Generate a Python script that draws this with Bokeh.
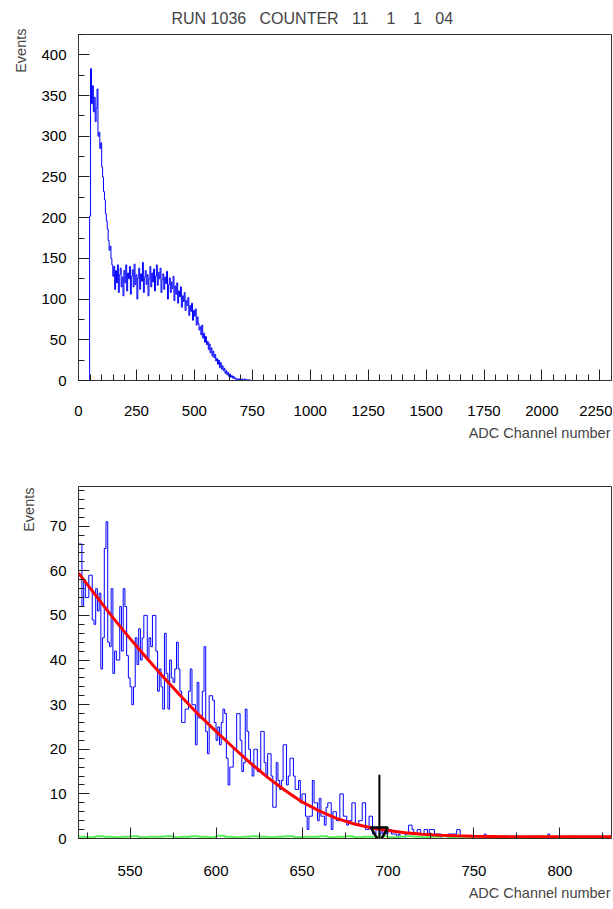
import numpy as np
from bokeh.plotting import figure
from bokeh.models import Range1d, SingleIntervalTicker, Title
from bokeh.layouts import column
from bokeh.embed import file_html
from bokeh.resources import INLINE

# ---------------- data ----------------
NB = "\u00a0"
TITLE = "RUN 1036" + NB * 2 + " COUNTER" + NB * 2 + " 11" + NB * 3 + " 1" + NB * 3 + " 1" + NB * 2 + " 04"
X_LABEL = "ADC Channel number"
Y_LABEL = "Events"

# full spectrum (upper panel)
top_first_channel = 48
top_bin_width = 4
top_counts = [
    202, 383, 340, 362, 330, 348, 318, 335, 358, 300,
    305, 285, 292, 262, 250, 232, 222, 205, 196, 186,
    172, 160, 165, 150, 142, 128, 140, 112, 135, 120,
    142, 108, 130, 138, 115, 127, 104, 135, 120, 142,
    110, 132, 125, 140, 106, 128, 136, 115, 143, 118,
    130, 100, 126, 138, 112, 131, 122, 145, 108, 127,
    135, 118, 130, 104, 125, 140, 115, 132, 121, 137,
    110, 128, 142, 117, 133, 125, 138, 108, 124, 131,
    112, 127, 119, 134, 100, 118, 126, 108, 121, 113,
    128, 98, 116, 106, 120, 95, 110, 103, 115, 90,
    104, 97, 108, 86, 98, 92, 102, 80, 92, 85,
    95, 74, 86, 79, 88, 68, 78, 70, 62, 66,
    56, 68, 52, 58, 47, 54, 44, 48, 38, 45,
    34, 40, 30, 36, 28, 32, 24, 27, 20, 25,
    16, 22, 14, 18, 12, 15, 9, 12, 7, 10,
    5, 8, 4, 6, 3, 5, 2, 3, 1, 2,
    1, 2, 0, 1, 2, 0, 1, 2, 1, 0,
    1, 0, 1, 0, 0, 0, 0, 0,
]
top_x_range = (0, 2300)
top_y_range = (0, 425)
top_x_tick_step = 250
top_y_tick_step = 50

# zoomed end-point region (lower panel)
zoom_first_channel = 520
zoom_bin_width = 1
zoom_counts = [
    66, 66, 52, 58, 54, 54, 59, 59, 49, 48,
    56, 51, 55, 38, 45, 65, 71, 44, 43, 56,
    37, 42, 40, 40, 52, 42, 56, 52, 41, 36,
    34, 30, 34, 45, 39, 47, 40, 45, 50, 50,
    40, 45, 43, 50, 50, 42, 33, 38, 34, 29,
    46, 37, 29, 40, 36, 35, 38, 44, 38, 33,
    26, 26, 29, 29, 33, 38, 30, 30, 21, 35,
    27, 27, 33, 43, 24, 19, 32, 32, 31, 26,
    22, 25, 21, 26, 29, 28, 18, 12, 16, 16,
    20, 20, 28, 28, 22, 15, 17, 29, 24, 20,
    17, 14, 20, 20, 15, 15, 24, 24, 17, 14,
    19, 19, 14, 7, 7, 17, 13, 11, 13, 21,
    21, 12, 14, 18, 18, 14, 11, 11, 13, 8,
    10, 10, 5, 2, 5, 5, 13, 8, 8, 4,
    9, 5, 5, 3, 7, 8, 8, 2, 6, 6,
    4, 4, 10, 10, 5, 5, 3, 4, 4, 8,
    8, 3, 3, 4, 4, 8, 8, 2, 2, 5,
    5, 1, 1, 2, 2, 1, 2, 1, 2, 1,
    2, 2, 1, 1, 1, 0, 1, 0, 0, 0,
    1, 1, 3, 3, 2, 1, 1, 2, 2, 1,
    1, 2, 2, 1, 2, 2, 2, 1, 1, 1,
    1, 0, 0, 0, 0, 1, 1, 1, 1, 1,
    2, 2, 0, 0, 0, 0, 0, 0, 0, 0,
    0, 0, 0, 0, 0, 0, 1, 0, 0, 0,
    0, 0, 0, 0, 0, 0, 0, 0, 0, 0,
    0, 0, 0, 0, 0, 0, 0, 0, 0, 0,
    0, 0, 0, 0, 0, 0, 0, 0, 0, 0,
    0, 0, 0, 1, 0, 0, 0, 0, 0, 0,
    0, 0, 0, 0, 0, 0, 0, 0, 0, 0,
    0, 0, 0, 0, 0, 0, 0, 0, 0, 0,
    0, 0, 0, 0, 0, 0, 0, 0, 0, 0,
]
zoom_x_range = (520, 830)
zoom_y_range = (0, 78.9)
zoom_x_tick_step = 50
zoom_y_tick_step = 10

# fitted curve (red)
fit_channels = [520, 530, 540, 550, 560, 570, 580, 590, 600, 610,
                620, 630, 640, 650, 660, 670, 680, 690, 700, 710,
                720, 730, 740, 750, 760, 770, 780, 790, 800, 810,
                820, 830]
fit_values = [59.5, 54.5, 49.5, 44.8, 40.3, 35.9, 31.7, 27.7, 24.0, 20.4,
              16.9, 13.7, 10.8, 8.2, 6.2, 4.5, 3.3, 2.4, 1.8, 1.3,
              0.95, 0.75, 0.6, 0.5, 0.45, 0.4, 0.4, 0.4, 0.4, 0.4,
              0.4, 0.4]

# background (green)
bg_first_channel = 520
bg_bin_width = 5
bg_counts = [0.4, 0.3, 0.5, 0.4, 0.3, 0.4, 0.5, 0.3, 0.4, 0.4,
             0.5, 0.3, 0.4, 0.5, 0.4, 0.3, 0.6, 0.4, 0.3, 0.4,
             0.5, 0.4, 0.3, 0.4, 0.5, 0.3, 0.4, 0.4, 0.5, 0.3,
             0.4, 0.5, 0.3, 0.4, 0.4, 0.5, 0.3, 0.4, 0.5, 0.4,
             0.3, 0.4, 0.5, 0.3, 0.4, 0.4, 0.5, 0.3, 0.4, 0.5,
             0.4, 0.3, 0.4, 0.5, 0.4, 0.3, 0.4, 0.5, 0.3, 0.4,
             0.4, 0.3]

# end-point marker
threshold_channel = 695
threshold_arrow_top = 14.3
threshold_marker_level = 1.35

FONT = "Liberation Sans"


def hist_outline(first, width, counts):
    counts = np.asarray(counts, dtype=float)
    edges = first + width * np.arange(len(counts) + 1)
    xs = np.repeat(edges, 2)
    ys = np.concatenate([[0.0], np.repeat(counts, 2), [0.0]])
    return xs, ys


def make_fig(height, xr, yr, xstep, ystep, xminor, yminor, min_top, min_bottom,
             xstandoff, ylabel_offset):
    p = figure(width=612, height=height,
               x_range=Range1d(*xr), y_range=Range1d(*yr),
               output_backend="svg", toolbar_location=None,
               min_border_left=78, min_border_right=1,
               min_border_top=min_top, min_border_bottom=min_bottom)
    p.xgrid.visible = False
    p.ygrid.visible = False
    p.outline_line_color = "#333333"
    p.outline_line_width = 1
    p.background_fill_color = "white"
    p.border_fill_color = "white"
    p.xaxis.ticker = SingleIntervalTicker(interval=xstep, num_minor_ticks=xminor)
    p.yaxis.ticker = SingleIntervalTicker(interval=ystep, num_minor_ticks=yminor)
    for ax in (p.xaxis[0], p.yaxis[0]):
        ax.major_tick_in = 11
        ax.major_tick_out = 0
        ax.minor_tick_in = 6
        ax.minor_tick_out = 0
        ax.major_tick_line_color = "#222222"
        ax.minor_tick_line_color = "#222222"
        ax.axis_line_color = "#333333"
        ax.major_label_text_font = FONT
        ax.major_label_text_font_size = "15px"
        ax.major_label_text_color = "black"
    p.xaxis.major_label_standoff = xstandoff
    p.yaxis.major_label_standoff = 12
    # axis titles
    p.add_layout(Title(text=Y_LABEL, align="right", offset=ylabel_offset, standoff=20,
                       text_font=FONT, text_font_size="14.5px", text_font_style="normal"), "left")
    p.add_layout(Title(text=X_LABEL, align="right", offset=1, standoff=8,
                       text_font=FONT, text_font_size="14.5px", text_font_style="normal"), "below")
    return p


# ---------------- upper panel ----------------
top = make_fig(468, top_x_range, top_y_range, top_x_tick_step, top_y_tick_step, 5, 2, 27, 88, 25, -6)
top.title = Title(text=TITLE, align="left", offset=93, standoff=15,
                  text_font=FONT, text_font_size="16px", text_font_style="normal")
tx, ty = hist_outline(top_first_channel, top_bin_width, top_counts)
top.line(tx, ty, line_color="#0000ff", line_width=1)

# ---------------- lower panel ----------------
bot = make_fig(440, zoom_x_range, zoom_y_range, zoom_x_tick_step, zoom_y_tick_step, 2, 5, 18, 70, 27, 1)
bx, by = hist_outline(zoom_first_channel, zoom_bin_width, zoom_counts)
bot.line(bx, by, line_color="#0000ff", line_width=1)
gx, gy = hist_outline(bg_first_channel, bg_bin_width, bg_counts)
bot.line(gx, gy, line_color="#55ee55", line_width=2)
bot.line(fit_channels, fit_values, line_color="#ff0000", line_width=3)
bot.segment(x0=[threshold_channel], y0=[0], x1=[threshold_channel], y1=[threshold_arrow_top],
            line_color="black", line_width=2)
bot.scatter([threshold_channel], [threshold_marker_level], marker="inverted_triangle", size=17,
            fill_alpha=0, line_color="black", line_width=2.5)

layout = column(top, bot, spacing=0)
open("out.html", "w").write(file_html(layout, INLINE))
